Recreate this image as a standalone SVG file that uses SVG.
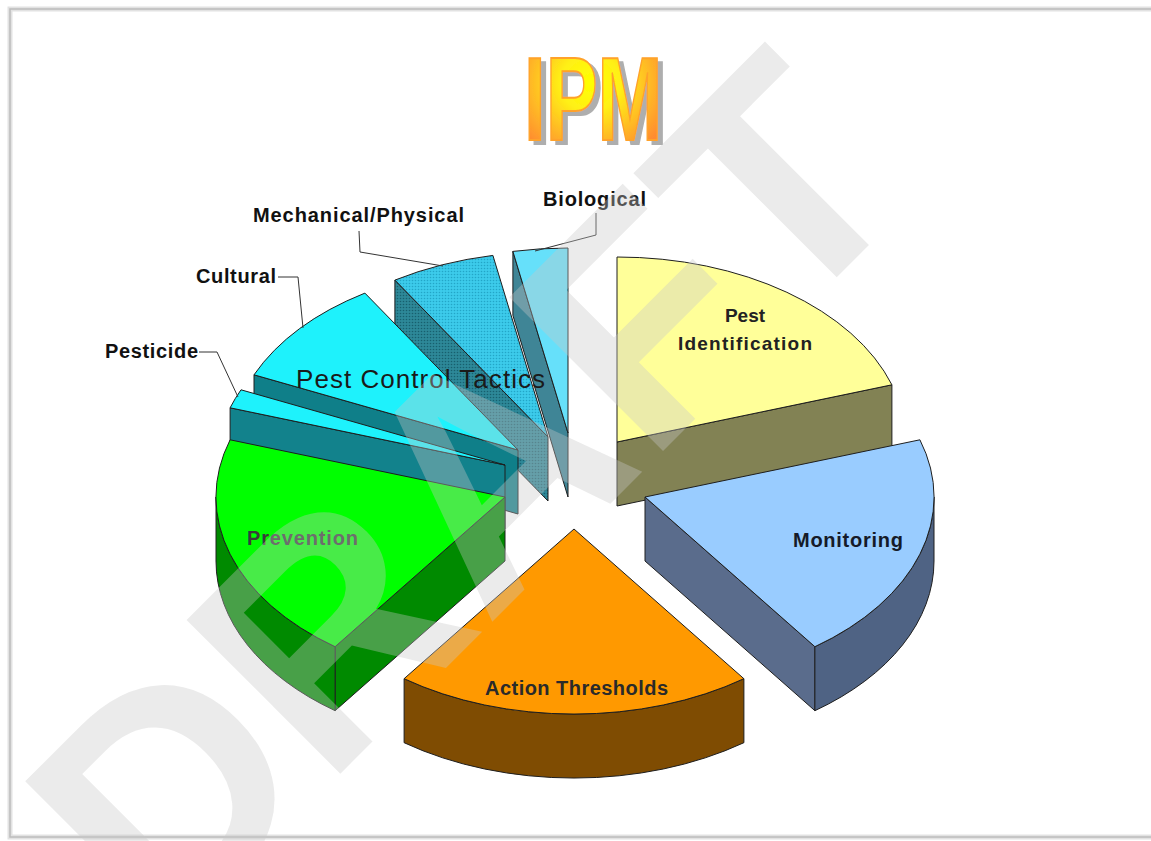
<svg xmlns="http://www.w3.org/2000/svg" width="1151" height="841" viewBox="0 0 1151 841">
<defs>
<radialGradient id="ipmGrad" cx="0.48" cy="0.38" r="0.62">
<stop offset="0" stop-color="#ffff00"/>
<stop offset="0.35" stop-color="#fff015"/>
<stop offset="0.75" stop-color="#ffb028"/>
<stop offset="1" stop-color="#ff8a30"/>
</radialGradient>
<filter id="shadow" x="-10%" y="-10%" width="130%" height="130%">
<feOffset in="SourceAlpha" dx="5" dy="4" result="off"/>
<feFlood flood-color="#9a9a9a" flood-opacity="0.8"/>
<feComposite in2="off" operator="in" result="sh"/>
<feMerge><feMergeNode in="sh"/><feMergeNode in="SourceGraphic"/></feMerge>
</filter>
<pattern id="dotsTop" width="3" height="3" patternUnits="userSpaceOnUse">
<rect width="3" height="3" fill="#3ccbeb"/>
<circle cx="1.5" cy="1.5" r="0.8" fill="#22a6c8"/>
</pattern>
<pattern id="dotsSide" width="3" height="3" patternUnits="userSpaceOnUse">
<rect width="3" height="3" fill="#2d8898"/>
<circle cx="1.5" cy="1.5" r="0.8" fill="#17606e"/>
</pattern>
<style>
.edge{stroke:#1e1e1e;stroke-width:1;stroke-linejoin:round}
.lab{font-family:"Liberation Sans",Arial,sans-serif;font-weight:bold;fill:#111}
.inlab{font-family:"Liberation Sans",Arial,sans-serif;font-weight:bold}
.lead{fill:none;stroke:#333;stroke-width:1}
</style>
</defs>
<rect width="1151" height="841" fill="#ffffff"/>
<rect x="10" y="9" width="1146" height="828" fill="none" stroke="#e2e2e2" stroke-width="5"/>
<rect x="10" y="9" width="1146" height="828" fill="none" stroke="#bcbcbc" stroke-width="1.5"/>

<g id="title" filter="url(#shadow)">
<text transform="translate(524,140) scale(0.66,1)" font-family="Liberation Sans,Arial,sans-serif" font-weight="bold" font-size="118" fill="url(#ipmGrad)" stroke="#ffa22a" stroke-width="2">IPM</text>
</g>

<g id="slice-biological">
<path class="edge" d="M568,433 L512.9,251.4 L512.9,315.4 L568,497 Z" fill="#3f8596"/>
<path class="edge" d="M568,433 L512.9,251.4 A289,185 0 0,1 568,248 Z" fill="#66e0fa"/>
</g>
<g id="slice-mechanical">
<path class="edge" d="M548,437 L394.9,280.1 L394.9,344.1 L548,501 Z" fill="url(#dotsSide)"/>
<path class="edge" d="M548,437 L394.9,280.1 A289,185 0 0,1 492.9,255.4 Z" fill="url(#dotsTop)"/>
</g>
<g id="slice-cultural">
<path class="edge" d="M518,450 L254,374.8 L254,438.8 L518,514 Z" fill="#0f7f89"/>
<path class="edge" d="M518,450 L254,374.8 A289,185 0 0,1 364.9,293.1 Z" fill="#1ef2fc"/>
</g>
<g id="slice-pesticide">
<path class="edge" d="M505,465 L230.1,407.8 L230.1,471.8 L505,529 Z" fill="#12828c"/>
<path class="edge" d="M505,465 L230.1,407.8 A289,185 0 0,1 241,389.8 Z" fill="#1ef2fc"/>
</g>
<g id="slice-pest-identification">
<path class="edge" d="M617,442 L891.9,384.8 L891.9,448.8 L617,506 Z" fill="#828254"/>
<path class="edge" d="M617,442 L617,257 A289,185 0 0,1 891.9,384.8 Z" fill="#ffff99"/>
<text class="inlab" x="745" y="322" font-size="19" text-anchor="middle" fill="#222">Pest</text>
<text class="inlab" x="678" y="350" font-size="19" textLength="134" fill="#222">Identification</text>
</g>
<g id="slice-prevention">
<path class="edge" d="M505,497 L335.1,646.7 L335.1,710.7 L505,561 Z" fill="#008a00"/>
<path class="edge" d="M335.1,646.7 A289,185 0 0,1 216,497 L216,561 A289,185 0 0,0 335.1,710.7 Z" fill="#008a00"/>
<path class="edge" d="M505,497 L335.1,646.7 A289,185 0 0,1 230.1,439.8 Z" fill="#00ff00"/>
<text class="inlab" x="247" y="545" font-size="20" textLength="111" fill="#3a3a3a">Prevention</text>
</g>
<g id="slice-monitoring">
<path class="edge" d="M645,497 L814.9,646.7 L814.9,710.7 L645,561 Z" fill="#5a6c8c"/>
<path class="edge" d="M934,497 A289,185 0 0,1 814.9,646.7 L814.9,710.7 A289,185 0 0,0 934,561 Z" fill="#4f6384"/>
<path class="edge" d="M645,497 L919.9,439.8 A289,185 0 0,1 814.9,646.7 Z" fill="#99ccff"/>
<text class="inlab" x="793" y="547" font-size="20" textLength="110" fill="#151a28">Monitoring</text>
</g>
<g id="slice-action-thresholds">
<path class="edge" d="M743.9,678.7 A289,185 0 0,1 404.1,678.7 L404.1,742.7 A289,185 0 0,0 743.9,742.7 Z" fill="#7f4c02"/>
<path class="edge" d="M574,529 L743.9,678.7 A289,185 0 0,1 404.1,678.7 Z" fill="#ff9900"/>
<text class="inlab" x="485" y="695" font-size="20" textLength="183" fill="#2a2a2a">Action Thresholds</text>
</g>

<text id="group-label" x="296" y="388" font-family="Liberation Sans,Arial,sans-serif" font-size="26" textLength="249" fill="#1a1a1a">Pest Control Tactics</text>

<g id="connectors">
<polyline class="lead" points="199,352 217,352 238,397"/>
<polyline class="lead" points="278,277 298,277 303,328"/>
<polyline class="lead" points="359,231 360,252 443,266"/>
<polyline class="lead" points="596,213 596,235 535,251"/>
</g>

<g id="labels">
<text class="lab" x="105" y="358" font-size="20" textLength="93">Pesticide</text>
<text class="lab" x="196" y="283" font-size="20" textLength="80">Cultural</text>
<text class="lab" x="253" y="222" font-size="20" textLength="211">Mechanical/Physical</text>
<text class="lab" x="543" y="206" font-size="20" textLength="103">Biological</text>
</g>

<text id="watermark" transform="translate(164,950) rotate(-45)" font-family="Liberation Sans,Arial,sans-serif" font-weight="bold" font-size="316" fill="#c8c8c8" opacity="0.36">DRAFT</text>
</svg>
